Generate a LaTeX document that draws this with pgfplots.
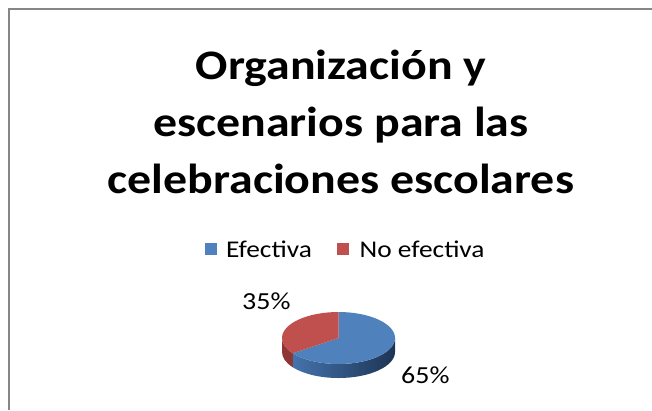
\documentclass[border=0pt]{standalone}
\usepackage{fontspec}
\setmainfont{Carlito}[FakeStretch=1.14]
\usepackage{pgfplots}
\usepackage{pgfplotstable}
\pgfplotsset{compat=1.18}
\definecolor{pieblue}{HTML}{4F81BD}
\definecolor{piered}{HTML}{C0504D}
\definecolor{sideblueL}{HTML}{4573AC}
\definecolor{sideblueM}{HTML}{345C8E}
\definecolor{sideblueR}{HTML}{1D3454}
\definecolor{sidered}{HTML}{8E3634}
\definecolor{framegray}{HTML}{868686}
\pgfplotstableread{
label value
Efectiva 65
NoEfectiva 35
}\pietable
\begin{document}
\begin{tikzpicture}
\pgfplotstablegetelem{0}{value}\of\pietable \edef\va{\pgfplotsretval}
\pgfplotstablegetelem{1}{value}\of\pietable \edef\vb{\pgfplotsretval}
\pgfmathsetmacro\angA{90-3.6*\va}
\pgfmathsetmacro\angB{90+3.6*\vb}
\def\cx{338.5}\def\cy{-338}\def\rx{56.5}\def\ry{26}\def\dep{14}
\pgfmathsetmacro\topy{\cy+\ry}
\pgfmathsetmacro\bx{\cx+\rx*cos(\angB)}
\pgfmathsetmacro\by{\cy+\ry*sin(\angB)}
\pgfmathsetmacro\lx{\cx-\rx}
\useasboundingbox (0,0) rectangle (652pt,-410pt);
\draw[framegray, line width=1.3pt] (9pt,-410pt) -- (9pt,-9pt) -- (652pt,-9pt);
\begin{axis}[at={(0pt,-410pt)}, anchor=south west, x=1pt, y=1pt,
  xmin=0, xmax=652, ymin=-410, ymax=0, hide axis, clip=false]
% sides
\fill[sidered] (axis cs:\lx,\cy) arc[start angle=180, end angle=\angB, x radius=\rx pt, y radius=\ry pt]
   -- ++(0pt,-\dep pt) arc[start angle=\angB, end angle=180, x radius=\rx pt, y radius=\ry pt] -- cycle;
\shade[left color=sideblueL, middle color=sideblueM, right color=sideblueR]
   (axis cs:\bx,\by) arc[start angle=\angB, end angle=360, x radius=\rx pt, y radius=\ry pt]
   -- ++(0pt,-\dep pt) arc[start angle=360, end angle=\angB, x radius=\rx pt, y radius=\ry pt] -- cycle;
% top faces
\fill[pieblue] (axis cs:\cx,\cy) -- (axis cs:\cx,\topy) arc[start angle=90, end angle=\angA, x radius=\rx pt, y radius=\ry pt] -- cycle;
\fill[piered] (axis cs:\cx,\cy) -- (axis cs:\cx,\topy) arc[start angle=90, end angle=\angB, x radius=\rx pt, y radius=\ry pt] -- cycle;
% legend
\fill[pieblue] (axis cs:205,-255) rectangle (axis cs:216.5,-243);
\node[anchor=base west, inner sep=0, font=\fontsize{24}{30}\selectfont] at (axis cs:226,-257) {Efectiva};
\fill[piered] (axis cs:337,-255) rectangle (axis cs:348.5,-243);
\node[anchor=base west, inner sep=0, font=\fontsize{24}{30}\selectfont] at (axis cs:359.5,-257) {No efectiva};
% labels
\node[anchor=base west, inner sep=0, font=\fontsize{24.5}{30}\selectfont] at (axis cs:242,-309) {\vb\%};
\node[anchor=base west, inner sep=0, font=\fontsize{24.5}{30}\selectfont] at (axis cs:401,-383) {\va\%};
% title
\node[anchor=base, inner sep=0, font=\fontsize{42}{50}\selectfont\bfseries] at (axis cs:341,-79) {Organización y};
\node[anchor=base, inner sep=0, font=\fontsize{42}{50}\selectfont\bfseries] at (axis cs:341,-136) {escenarios para las};
\node[anchor=base, inner sep=0, font=\fontsize{42}{50}\selectfont\bfseries] at (axis cs:341,-193) {celebraciones escolares};
\end{axis}
\end{tikzpicture}
\end{document}
